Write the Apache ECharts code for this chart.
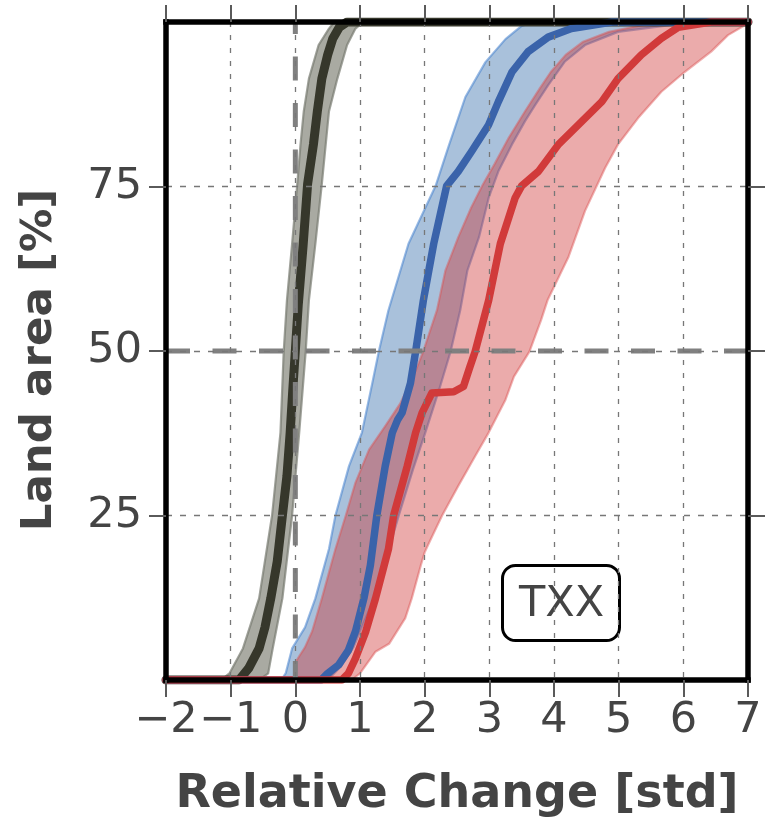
<!DOCTYPE html>
<html>
<head>
<meta charset="utf-8">
<script src="https://cdn.jsdelivr.net/npm/echarts@6/dist/echarts.min.js"></script>
<style>
  html, body { margin: 0; padding: 0; background: #ffffff; }
  #chart { width: 766px; height: 823px; }
</style>
</head>
<body>
<div id="chart"></div>
<script>
// Axis ticks
const xTicks = [-2, -1, 0, 1, 2, 3, 4, 5, 6, 7];
const yTicks = [25, 50, 75];

// Reference (control) distribution: median curve and spread
const ctrlMedX = [-2, -0.87, -0.72, -0.56, -0.47, -0.38, -0.28, -0.2, -0.13, -0.08, -0.04, 0.0, 0.045, 0.12, 0.19, 0.28, 0.34, 0.41, 0.5, 0.58, 0.68, 0.8, 7];
const ctrlMedY = [0, 0, 1.8, 4.8, 8, 12.4, 18, 25, 31, 37.6, 44, 50, 57, 66, 75.4, 81.4, 86.4, 91.4, 95, 97.5, 99.2, 100, 100];
const ctrlLoX = [-1.15, -1.02, -0.81, -0.56, -0.36, -0.23, -0.18, -0.13, -0.05, 0.03, 0.08, 0.13, 0.21, 0.36, 0.52, 0.6];
const ctrlLoY = [0, 1, 4.8, 12.4, 25, 37.6, 49.9, 57.7, 66.3, 75.4, 81.4, 86.4, 91.4, 96.5, 99, 100];
const ctrlHiX = [-0.56, -0.42, -0.35, -0.2, -0.05, 0.06, 0.16, 0.21, 0.31, 0.41, 0.47, 0.52, 0.65, 0.8, 0.93, 1.05];
const ctrlHiY = [0, 1, 4.8, 12.4, 25, 37.6, 49.9, 57.7, 66.3, 75.4, 81.4, 86.4, 91.4, 96.5, 99, 100];

// Blue scenario: median curve and spread
const blueMedX = [-2, 0.4, 0.5, 0.67, 0.82, 0.93, 1.06, 1.16, 1.26, 1.39, 1.5, 1.58, 1.65, 1.78, 1.86, 1.98, 2.14, 2.34, 2.52, 2.73, 2.99, 3.14, 3.35, 3.6, 3.91, 4.27, 4.9, 7];
const blueMedY = [0, 0, 1, 2.3, 4.5, 7.4, 12.4, 17.4, 25, 32.5, 37.6, 39.5, 40.6, 45.1, 49.9, 57.7, 66.3, 75.1, 77.3, 80.4, 84.4, 87.9, 92.4, 95.5, 97.7, 99, 100, 100];
const blueLoX = [-0.22, -0.15, -0.05, 0.15, 0.31, 0.52, 0.62, 0.83, 1.03, 1.19, 1.29, 1.44, 1.75, 2.17, 2.37, 2.63, 2.94, 3.25, 3.5, 3.7];
const blueLoY = [0, 1, 4.8, 8, 12.4, 19.9, 25, 32.5, 37.6, 45.1, 49.9, 56.2, 66.3, 75.1, 81.1, 88.6, 93.9, 97.4, 99.4, 100];
const blueHiX = [0.5, 0.7, 0.9, 1.2, 1.45, 1.6, 1.82, 2.01, 2.22, 2.4, 2.55, 2.66, 2.84, 2.99, 3.14, 3.35, 3.55, 3.71, 3.91, 4.17, 4.48, 4.99, 5.76, 6.1];
const blueHiY = [0, 2, 5, 12, 20, 25, 32, 37.6, 44, 49.9, 56.2, 62.2, 67.3, 73.3, 77.3, 81.4, 84.9, 87.4, 90.4, 94, 96.5, 98.5, 99.5, 100];

// Red scenario: median curve and spread
const redMedX = [-2, 0.72, 0.82, 0.93, 1.09, 1.24, 1.44, 1.52, 1.73, 1.86, 1.96, 2.11, 2.45, 2.6, 2.7, 2.78, 2.99, 3.17, 3.4, 3.5, 3.76, 4.07, 4.38, 4.74, 4.99, 5.35, 5.66, 5.92, 6.43, 7];
const redMedY = [0, 0, 1, 3.3, 7.4, 12.4, 19.9, 25, 32.5, 37.6, 40.6, 43.6, 43.8, 44.6, 47.6, 49.9, 57.7, 66.3, 73.3, 75.1, 77.3, 81.4, 84.4, 87.9, 91.4, 95, 97.5, 99.2, 100, 100];
const redLoX = [0.0, 0.02, 0.15, 0.26, 0.41, 0.62, 0.78, 0.93, 1.14, 1.39, 1.62, 1.82, 1.98, 2.19, 2.32, 2.52, 2.72, 2.9, 3.08, 3.3, 3.55, 3.78, 3.95, 4.18, 4.45, 4.85, 5.6];
const redLoY = [0, 3, 5, 7.4, 12.4, 19.9, 25, 30, 35, 38.6, 42, 46, 50, 56.2, 62.2, 67.3, 71.8, 75.3, 78.4, 82.4, 86.4, 89.9, 92.4, 95, 97, 98.5, 100];
const redHiX = [0.87, 1.0, 1.24, 1.45, 1.7, 1.8, 1.94, 2.0, 2.1, 2.27, 2.52, 2.78, 2.99, 3.25, 3.38, 3.62, 3.8, 3.9, 4.22, 4.48, 4.79, 4.99, 5.3, 5.66, 6.02, 6.43, 6.69, 6.95, 7.0];
const redHiY = [0, 1, 4.3, 5.5, 9.4, 12.4, 17.4, 19.4, 21.5, 25, 29.5, 34, 37.6, 42.6, 46.1, 49.9, 54.7, 57.7, 64.2, 71.3, 77.8, 81.4, 85.4, 89.4, 92.4, 95.5, 98, 99.5, 100];

// Reference lines: zero change and half of the land area
const zeroLineX = [0, 0];
const zeroLineY = [100, 0];
const halfLineX = [-2, 7];
const halfLineY = [50, 50];

const FONT = 'DejaVu Sans';
const TEXT = '#444444';

function pairs(xs, ys) {
  return xs.map((x, i) => [x, ys[i]]);
}

// Shaded spread between a low and a high curve, drawn as a closed polygon
function band(name, loX, loY, hiX, hiY, fill, stroke, z) {
  return {
    type: 'custom',
    name: name,
    z: z,
    silent: true,
    data: [[loX[0], loY[0]]],
    encode: { x: 0, y: 1 },
    renderItem: function (params, api) {
      const pts = [];
      for (let i = 0; i < loX.length; i++) pts.push(api.coord([loX[i], loY[i]]));
      for (let i = hiX.length - 1; i >= 0; i--) pts.push(api.coord([hiX[i], hiY[i]]));
      return {
        type: 'polygon',
        shape: { points: pts },
        style: { fill: fill, stroke: stroke, lineWidth: 2.2, lineJoin: 'round' }
      };
    }
  };
}

function curve(name, xs, ys, color, width, z) {
  return {
    type: 'line',
    name: name,
    z: z,
    data: pairs(xs, ys),
    symbol: 'none',
    silent: true,
    lineStyle: { color: color, width: width, join: 'round', cap: 'round' }
  };
}

const fmtNum = v => String(v).replace('-', '\u2212');

// Fresh style objects for every axis (the frame on all four sides, ticks pointing out)
const frameLine = () => ({ show: true, onZero: false, lineStyle: { color: '#000000', width: 5.5, cap: 'square' } });
const outTicks = (custom) => {
  const t = { show: true, inside: false, length: 17, lineStyle: { color: '#5a5a5a', width: 2 } };
  if (custom) t.customValues = custom;
  return t;
};

const chart = echarts.init(document.getElementById('chart'), null, { renderer: 'canvas' });

chart.setOption({
  animation: false,
  backgroundColor: '#ffffff',
  title: {
    text: 'TXX',
    left: 502,
    top: 565,
    padding: [16, 16, 12, 17],
    borderColor: '#000000',
    borderWidth: 3,
    borderRadius: 13,
    backgroundColor: '#ffffff',
    textStyle: { fontFamily: FONT, fontSize: 43, fontWeight: 'normal', color: TEXT, lineHeight: 48 }
  },
  grid: { left: 166, top: 22, width: 582, height: 660, containLabel: false },
  xAxis: [
    {
      type: 'value', min: -2, max: 7, interval: 1, position: 'bottom', z: 10,
      axisLine: frameLine(),
      axisTick: outTicks(),
      axisLabel: { fontFamily: FONT, fontSize: 43, color: TEXT, margin: 19, formatter: fmtNum, hideOverlap: false },
      splitLine: { show: true, lineStyle: { color: '#777777', width: 1.3, type: [5, 8] } },
      name: 'Relative Change [std]',
      nameLocation: 'middle',
      nameGap: 92,
      nameTextStyle: { fontFamily: FONT, fontSize: 46, fontWeight: 'bold', color: TEXT }
    },
    {
      type: 'value', min: -2, max: 7, interval: 1, position: 'top', z: 10,
      axisLine: frameLine(),
      axisTick: outTicks(xTicks),
      axisLabel: { show: false },
      splitLine: { show: false }
    }
  ],
  yAxis: [
    {
      type: 'value', min: 0, max: 100, interval: 25, position: 'left', z: 10,
      axisLine: frameLine(),
      axisTick: outTicks(yTicks),
      axisLabel: { fontFamily: FONT, fontSize: 43, color: TEXT, margin: 24, customValues: yTicks },
      splitLine: { show: true, lineStyle: { color: '#777777', width: 1.3, type: [6, 8] } },
      name: 'Land area [%]',
      nameLocation: 'middle',
      nameRotate: 90,
      nameGap: 104,
      nameTextStyle: { fontFamily: FONT, fontSize: 43.5, fontWeight: 'bold', color: TEXT, padding: [0, 18, 0, 0] }
    },
    {
      type: 'value', min: 0, max: 100, interval: 25, position: 'right', z: 10,
      axisLine: frameLine(),
      axisTick: outTicks(yTicks),
      axisLabel: { show: false },
      splitLine: { show: false }
    }
  ],
  series: [
    band('control spread', ctrlLoX, ctrlLoY, ctrlHiX, ctrlHiY, '#a9aaa2', 'rgba(120,122,112,0.7)', 2),
    band('blue spread', blueLoX, blueLoY, blueHiX, blueHiY, 'rgba(40,100,165,0.4)', 'rgba(70,130,205,0.55)', 2),
    band('red spread', redLoX, redLoY, redHiX, redHiY, 'rgba(205,45,45,0.4)', 'rgba(220,80,80,0.45)', 2),
    curve('control median', ctrlMedX, ctrlMedY, '#36372b', 9, 3),
    curve('blue median', blueMedX, blueMedY, '#3a63aa', 7.5, 3),
    curve('red median', redMedX, redMedY, '#d13a3a', 7.5, 3),
    {
      type: 'line', name: 'zero change', z: 4, silent: true, symbol: 'none',
      data: pairs(zeroLineX, zeroLineY),
      lineStyle: { color: '#808080', width: 5, type: [24, 22.5], dashOffset: 12, cap: 'butt' }
    },
    {
      type: 'line', name: 'half area', z: 4, silent: true, symbol: 'none',
      data: pairs(halfLineX, halfLineY),
      lineStyle: { color: '#808080', width: 5, type: [24, 22.5], cap: 'butt' }
    }
  ]
});
</script>
</body>
</html>
